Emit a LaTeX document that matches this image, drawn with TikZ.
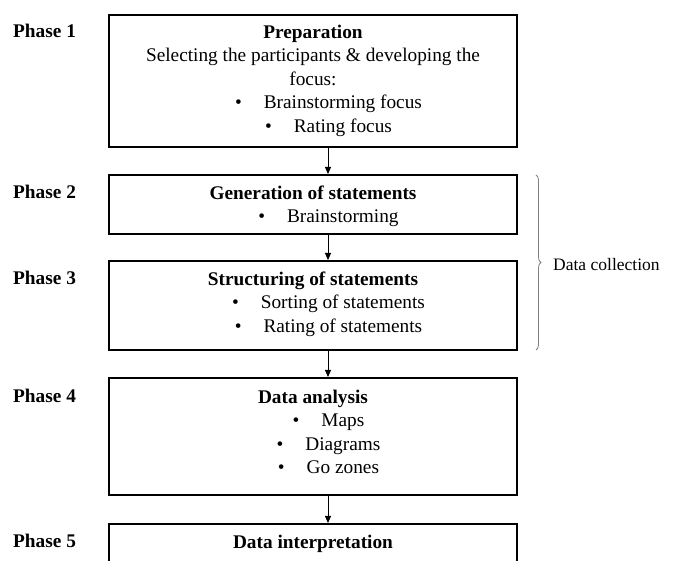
\documentclass[tikz,border=0pt]{standalone}
\usepackage{fontspec}
\setmainfont{Liberation Serif}
\usetikzlibrary{arrows.meta,decorations.pathreplacing}
\begin{document}
\begin{tikzpicture}[x=1pt,y=-1pt,
  box/.style={draw, line width=1.6pt, minimum width=408pt, inner sep=0pt, anchor=north},
  txt/.style={anchor=north, align=center, inner sep=0pt, font=\fontsize{19.3}{23.5}\selectfont},
  phase/.style={anchor=base west, inner sep=0pt, font=\fontsize{19.3}{23.5}\selectfont\bfseries},
  arr/.style={-{Triangle[length=7pt,width=6pt]}, line width=0.9pt},
  brc/.style={decorate, decoration={brace, amplitude=5pt}, draw=gray, line width=0.8pt}]
\useasboundingbox (0,0) rectangle (673,561);
\clip (0,0) rectangle (673,561);
\fill[white] (0,0) rectangle (673,561);
\newcommand{\bl}[1]{\hspace*{31pt}\textbullet\hspace{22pt}#1}
% boxes
\node[box, minimum height=132pt] (b1) at (313,14) {};
\node[box, minimum height=59pt] (b2) at (313,174) {};
\node[box, minimum height=89pt] (b3) at (313,260) {};
\node[box, minimum height=117pt] (b4) at (313,377) {};
\node[box, minimum height=90pt] (b5) at (313,523) {};
% texts
\node[txt] (t1) at (313,21.5) {\strut\textbf{Preparation}\\Selecting the participants \& developing the\\focus:\\\bl{Brainstorming focus}\\\bl{Rating focus}};
\node[txt] (t2) at (313,182.5) {\strut\textbf{Generation of statements}\\\bl{Brainstorming}};
\node[txt] (t3) at (313,268.5) {\strut\textbf{Structuring of statements}\\\bl{Sorting of statements}\\\bl{Rating of statements}};
\node[txt] (t4) at (313,386.5) {\strut\textbf{Data analysis}\\\bl{Maps}\\\bl{Diagrams}\\\bl{Go zones}};
\node[txt] (t5) at (313,531.5) {\strut\textbf{Data interpretation}};
% phase labels
\node[phase] (p1) at (13,38) {Phase 1};
\node[phase] (p2) at (13,199) {Phase 2};
\node[phase] (p3) at (13,285) {Phase 3};
\node[phase] (p4) at (13,403) {Phase 4};
\node[phase] (p5) at (13,548) {Phase 5};
% arrows
\coordinate (ax) at (328,0);
\draw[arr] (b1.south -| ax) -- (b2.north -| ax);
\draw[arr] (b2.south -| ax) -- (b3.north -| ax);
\draw[arr] (b3.south -| ax) -- (b4.north -| ax);
\draw[arr] (b4.south -| ax) -- (b5.north -| ax);
% brace
\coordinate (bt) at (536,175);
\coordinate (bb) at (536,350);
\draw[brc] (bt) -- (bb);
\node[anchor=base west, inner sep=0pt, font=\fontsize{17.5}{21}\selectfont] (dc) at (553,271) {Data collection};
\end{tikzpicture}
\end{document}
